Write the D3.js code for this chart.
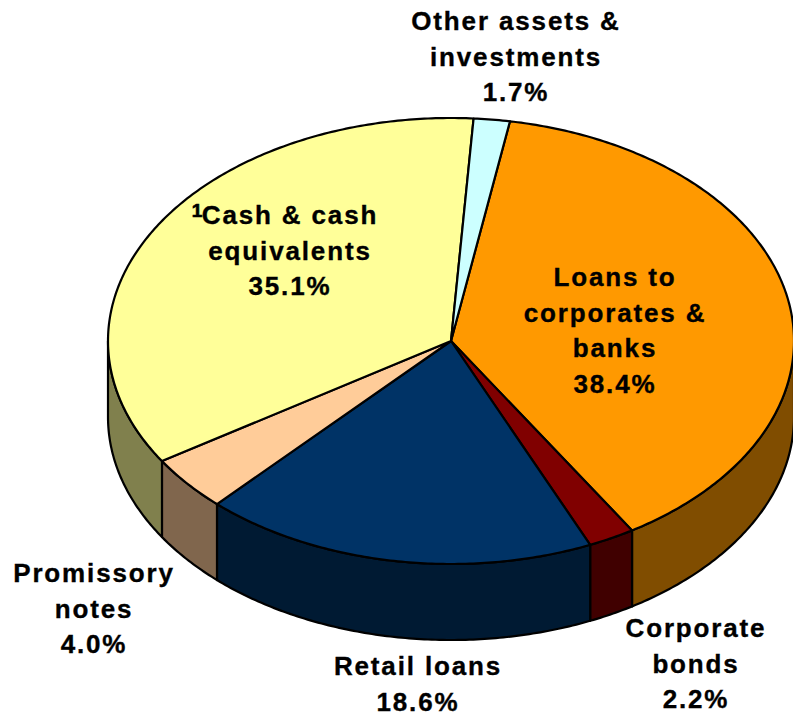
<!DOCTYPE html>
<html><head><meta charset="utf-8">
<script src="https://cdn.jsdelivr.net/npm/d3@7/dist/d3.min.js"></script>
<style>html,body{margin:0;padding:0;background:#fff}svg{display:block}
text{font-family:"Liberation Sans",Arial,sans-serif;font-weight:700;font-size:26px;letter-spacing:1.85px;fill:#000;stroke:#000;stroke-width:.35px;text-anchor:middle}</style>
</head><body><div id="c"></div>
<script>
const categories=["Loans to corporates & banks","Corporate bonds","Retail loans","Promissory notes","Cash & cash equivalents","Other assets & investments"];
const values=[38.4,2.2,18.6,4.0,35.1,1.7];
const topColors=["#FF9900","#800000","#003366","#FFCC99","#FFFF99","#CCFFFF"];
const sideColors=["#804D00","#400000","#001A33","#80664D","#80804D","#668080"];
const labelLines=[["Loans to","corporates &","banks","38.4%"],["Corporate","bonds","2.2%"],["Retail loans","18.6%"],["Promissory","notes","4.0%"],["Cash & cash","equivalents","35.1%"],["Other assets &","investments","1.7%"]];
const labelCenters=[[615,286],[696,637],[418,675],[94,582],[290,224],[516,30]];

const W=793,H=714,cx=451,cy=341,rx=343,ry=223,depth=76,lineGap=35.7;
const svg=d3.select("#c").append("svg").attr("width",W).attr("height",H);
const x=d3.scaleLinear().domain([-1,1]).range([cx-rx,cx+rx]);
const y=d3.scaleLinear().domain([-1,1]).range([cy-ry,cy+ry]);
const start=9.9*Math.PI/180;
const arcs=d3.pie().sort(null).startAngle(start).endAngle(start+2*Math.PI)(values);
const line=d3.line();
const px=a=>[x(Math.sin(a)),y(-Math.cos(a))];
const steps=(a,b)=>{const n=Math.max(2,Math.ceil((b-a)*90));return d3.range(n+1).map(i=>a+(b-a)*i/n)};

const fl=Math.PI/2,fr=3*Math.PI/2;
const sides=arcs.map((d,i)=>{
  const a=Math.max(d.startAngle,fl),b=Math.min(d.endAngle,fr);
  return b>a?{a,b,i}:null}).filter(Boolean);
svg.append("g").selectAll("path").data(sides).join("path")
  .attr("d",d=>{
    const t=steps(d.a,d.b).map(px);
    const low=t.map(p=>[p[0],p[1]+depth]).reverse();
    return line(t.concat(low))+"Z";})
  .attr("fill",d=>sideColors[d.i]).attr("stroke","#000").attr("stroke-width",2.2).attr("stroke-linejoin","round");

svg.append("g").selectAll("path").data(arcs).join("path")
  .attr("d",d=>line([[cx,cy]].concat(steps(d.startAngle,d.endAngle).map(px)))+"Z")
  .attr("fill",(d,i)=>topColors[i]).attr("stroke","#000").attr("stroke-width",2.2).attr("stroke-linejoin","round");

const g=svg.append("g");
labelLines.forEach((ls,i)=>{
  const t=g.append("text").attr("x",labelCenters[i][0]).attr("y",labelCenters[i][1]);
  ls.forEach((s,k)=>t.append("tspan").attr("x",labelCenters[i][0]).attr("y",labelCenters[i][1]+k*lineGap).text(s));
});
g.append("text").attr("x",197).attr("y",217).style("font-size","19px").style("letter-spacing","0").style("stroke-width",".7px").text("1");
</script></body></html>
